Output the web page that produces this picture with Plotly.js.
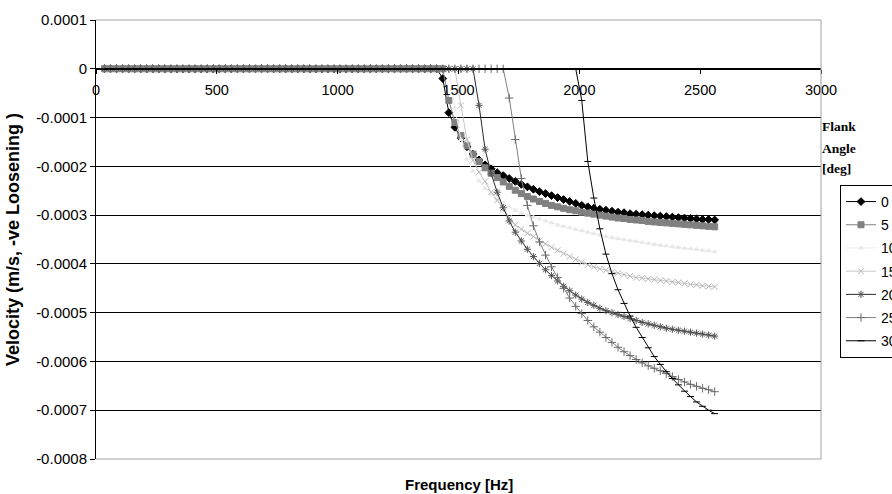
<!DOCTYPE html>
<html>
<head>
<meta charset="utf-8">
<script src="https://cdn.plot.ly/plotly-3.0.1.min.js"></script>
<style>html,body{margin:0;padding:0;background:#fff;}#chart{width:892px;height:494px;}</style>
</head>
<body>
<div id="chart"></div>
<script>
// Frequency [Hz]
const freq = [
35,60,85,110,135,160,185,210,235,260,
285,310,335,360,385,410,435,460,485,510,
535,560,585,610,635,660,685,710,735,760,
785,810,835,860,885,910,935,960,985,1010,
1035,1060,1085,1110,1135,1160,1185,1210,1235,1260,
1285,1310,1335,1360,1385,1410,1435,1460,1485,1510,
1535,1560,1585,1610,1635,1660,1685,1710,1735,1760,
1785,1810,1835,1860,1885,1910,1935,1960,1985,2010,
2035,2060,2085,2110,2135,2160,2185,2210,2235,2260,
2285,2310,2335,2360,2385,2410,2435,2460,2485,2510,
2535,2560
];

const seriesNames = ["0","5","10","15","20","25","30"];

// Velocity (m/s) for each flank angle
const v0 = [
0,0,0,0,0,0,0,0,0,0, 0,0,0,0,0,0,0,0,0,0, 0,0,0,0,0,0,0,0,0,0, 0,0,0,0,0,0,0,0,0,0, 0,0,0,0,0,0,0,0,0,0,
0,0,0,0,0,0,-0.2e-4,-0.9e-4,-1.2e-4,-1.42e-4,
-1.6e-4,-1.75e-4,-1.87e-4,-1.97e-4,-2.05e-4,-2.13e-4,-2.19e-4,-2.25e-4,-2.31e-4,-2.37e-4,
-2.42e-4,-2.47e-4,-2.52e-4,-2.56e-4,-2.6e-4,-2.64e-4,-2.68e-4,-2.72e-4,-2.76e-4,-2.8e-4,
-2.83e-4,-2.86e-4,-2.88e-4,-2.9e-4,-2.92e-4,-2.94e-4,-2.95e-4,-2.97e-4,-2.98e-4,-2.99e-4,
-3.0e-4,-3.01e-4,-3.02e-4,-3.03e-4,-3.04e-4,-3.05e-4,-3.06e-4,-3.07e-4,-3.08e-4,-3.09e-4,
-3.09e-4,-3.1e-4
];
const v5 = [
0,0,0,0,0,0,0,0,0,0, 0,0,0,0,0,0,0,0,0,0, 0,0,0,0,0,0,0,0,0,0, 0,0,0,0,0,0,0,0,0,0, 0,0,0,0,0,0,0,0,0,0,
0,0,0,0,0,0,0,-0.65e-4,-1.1e-4,-1.37e-4,
-1.58e-4,-1.75e-4,-1.9e-4,-2.03e-4,-2.14e-4,-2.23e-4,-2.32e-4,-2.41e-4,-2.49e-4,-2.56e-4,
-2.62e-4,-2.67e-4,-2.72e-4,-2.76e-4,-2.8e-4,-2.83e-4,-2.86e-4,-2.89e-4,-2.91e-4,-2.94e-4,
-2.96e-4,-2.98e-4,-3.0e-4,-3.02e-4,-3.04e-4,-3.06e-4,-3.07e-4,-3.09e-4,-3.1e-4,-3.11e-4,
-3.13e-4,-3.14e-4,-3.15e-4,-3.16e-4,-3.17e-4,-3.18e-4,-3.19e-4,-3.2e-4,-3.21e-4,-3.22e-4,
-3.23e-4,-3.24e-4
];
const v10 = [
0,0,0,0,0,0,0,0,0,0, 0,0,0,0,0,0,0,0,0,0, 0,0,0,0,0,0,0,0,0,0, 0,0,0,0,0,0,0,0,0,0, 0,0,0,0,0,0,0,0,0,0,
0,0,0,0,0,0,0,0,-0.8e-4,-1.45e-4,
-1.85e-4,-2.1e-4,-2.3e-4,-2.45e-4,-2.57e-4,-2.67e-4,-2.76e-4,-2.83e-4,-2.9e-4,-2.96e-4,
-3.0e-4,-3.04e-4,-3.08e-4,-3.12e-4,-3.16e-4,-3.2e-4,-3.23e-4,-3.26e-4,-3.29e-4,-3.32e-4,
-3.35e-4,-3.38e-4,-3.41e-4,-3.44e-4,-3.46e-4,-3.48e-4,-3.5e-4,-3.52e-4,-3.54e-4,-3.56e-4,
-3.58e-4,-3.6e-4,-3.62e-4,-3.63e-4,-3.65e-4,-3.66e-4,-3.68e-4,-3.69e-4,-3.7e-4,-3.72e-4,
-3.73e-4,-3.75e-4
];
const v15 = [
0,0,0,0,0,0,0,0,0,0, 0,0,0,0,0,0,0,0,0,0, 0,0,0,0,0,0,0,0,0,0, 0,0,0,0,0,0,0,0,0,0, 0,0,0,0,0,0,0,0,0,0,
0,0,0,0,0,0,0,0,0,-0.75e-4,
-1.45e-4,-1.88e-4,-2.12e-4,-2.31e-4,-2.53e-4,-2.7e-4,-2.88e-4,-3.05e-4,-3.2e-4,-3.29e-4,
-3.37e-4,-3.44e-4,-3.52e-4,-3.59e-4,-3.66e-4,-3.72e-4,-3.79e-4,-3.85e-4,-3.91e-4,-3.97e-4,
-4.02e-4,-4.06e-4,-4.1e-4,-4.13e-4,-4.16e-4,-4.19e-4,-4.22e-4,-4.25e-4,-4.28e-4,-4.29e-4,
-4.31e-4,-4.32e-4,-4.34e-4,-4.35e-4,-4.37e-4,-4.38e-4,-4.4e-4,-4.42e-4,-4.43e-4,-4.45e-4,
-4.46e-4,-4.47e-4
];
const v20 = [
0,0,0,0,0,0,0,0,0,0, 0,0,0,0,0,0,0,0,0,0, 0,0,0,0,0,0,0,0,0,0, 0,0,0,0,0,0,0,0,0,0, 0,0,0,0,0,0,0,0,0,0,
0,0,0,0,0,0,0,0,0,0,
0,0,-0.75e-4,-1.65e-4,-2.15e-4,-2.53e-4,-2.85e-4,-3.12e-4,-3.35e-4,-3.53e-4,
-3.7e-4,-3.85e-4,-3.99e-4,-4.12e-4,-4.24e-4,-4.35e-4,-4.46e-4,-4.55e-4,-4.64e-4,-4.72e-4,
-4.79e-4,-4.85e-4,-4.91e-4,-4.96e-4,-5.0e-4,-5.04e-4,-5.08e-4,-5.12e-4,-5.16e-4,-5.2e-4,
-5.23e-4,-5.26e-4,-5.29e-4,-5.32e-4,-5.34e-4,-5.36e-4,-5.38e-4,-5.4e-4,-5.42e-4,-5.44e-4,
-5.46e-4,-5.48e-4
];
const v25 = [
0,0,0,0,0,0,0,0,0,0, 0,0,0,0,0,0,0,0,0,0, 0,0,0,0,0,0,0,0,0,0, 0,0,0,0,0,0,0,0,0,0, 0,0,0,0,0,0,0,0,0,0,
0,0,0,0,0,0,0,0,0,0,
0,0,0,0,0,0,0,-0.6e-4,-1.45e-4,-2.25e-4,
-2.8e-4,-3.22e-4,-3.55e-4,-3.82e-4,-4.06e-4,-4.28e-4,-4.5e-4,-4.7e-4,-4.87e-4,-5.02e-4,
-5.16e-4,-5.29e-4,-5.4e-4,-5.51e-4,-5.61e-4,-5.71e-4,-5.8e-4,-5.88e-4,-5.96e-4,-6.03e-4,
-6.09e-4,-6.14e-4,-6.19e-4,-6.25e-4,-6.31e-4,-6.37e-4,-6.42e-4,-6.47e-4,-6.51e-4,-6.55e-4,
-6.58e-4,-6.62e-4
];
const v30 = [
0,0,0,0,0,0,0,0,0,0, 0,0,0,0,0,0,0,0,0,0, 0,0,0,0,0,0,0,0,0,0, 0,0,0,0,0,0,0,0,0,0, 0,0,0,0,0,0,0,0,0,0,
0,0,0,0,0,0,0,0,0,0,
0,0,0,0,0,0,0,0,0,0,
0,0,0,0,0,0,0,0,0,-0.65e-4,
-1.9e-4,-2.65e-4,-3.28e-4,-3.8e-4,-4.2e-4,-4.53e-4,-4.81e-4,-5.07e-4,-5.3e-4,-5.51e-4,
-5.72e-4,-5.9e-4,-6.06e-4,-6.21e-4,-6.35e-4,-6.48e-4,-6.61e-4,-6.72e-4,-6.83e-4,-6.92e-4,
-7.0e-4,-7.07e-4
];

const yTickVals = [0.0001, 0, -0.0001, -0.0002, -0.0003, -0.0004, -0.0005, -0.0006, -0.0007, -0.0008];
const yTickText = ["0.0001", "0", "-0.0001", "-0.0002", "-0.0003", "-0.0004", "-0.0005", "-0.0006", "-0.0007", "-0.0008"];
const xTickVals = [0, 500, 1000, 1500, 2000, 2500, 3000];

const values = [v0, v5, v10, v15, v20, v25, v30];
const styles = [
  {line: '#000000', mk: 'diamond', mc: '#000000', ms: 6},
  {line: '#808080', mk: 'square', mc: '#808080', ms: 6},
  {line: '#eeeeee', mk: 'triangle-up', mc: '#e8e8e8', ms: 4},
  {line: '#c8c8c8', mk: 'x-thin-open', mc: '#b8b8b8', ms: 6},
  {line: '#2a2a2a', mk: 'asterisk-open', mc: '#555555', ms: 6},
  {line: '#808080', mk: 'cross-thin-open', mc: '#6a6a6a', ms: 6},
  {line: '#000000', mk: 'line-ew-open', mc: '#000000', ms: 5}
];

const traces = seriesNames.map((name, i) => ({
  type: 'scatter',
  mode: 'lines+markers',
  name: name,
  legendgroup: 'g' + i,
  x: freq,
  y: values[i],
  line: {color: styles[i].line, width: 1},
  marker: {symbol: styles[i].mk, color: styles[i].mc, size: styles[i].ms,
           line: {color: styles[i].mc, width: 1}}
}));

const font = "Liberation Sans, Arial, sans-serif";
const serif = "Liberation Serif, Times New Roman, serif";
const layout = {
  width: 892, height: 494,
  margin: {l: 96, r: 71, t: 20, b: 35, autoexpand: false},
  paper_bgcolor: '#ffffff', plot_bgcolor: '#ffffff',
  font: {family: font, size: 14, color: '#000'},
  showlegend: true,
  legend: {
    x: 1.0262, xanchor: 'left', y: 0.6242, yanchor: 'top',
    bordercolor: '#000', borderwidth: 1, bgcolor: '#fff',
    font: {family: font, size: 14, color: '#000'},
    tracegroupgap: 2, traceorder: 'grouped'
  },
  xaxis: {
    range: [0, 3000], tickvals: xTickVals, ticktext: xTickVals.map(String),
    anchor: 'free', position: 0.8889,
    showline: true, linecolor: '#000', linewidth: 1,
    ticks: 'outside', ticklen: 4, tickcolor: '#000',
    ticklabelstandoff: 4,
    showgrid: false, zeroline: false,
    tickfont: {family: font, size: 14.5, color: '#000'}
  },
  yaxis: {
    range: [-0.0008, 0.0001], tickvals: yTickVals, ticktext: yTickText,
    showline: true, linecolor: '#000', linewidth: 1,
    ticks: 'outside', ticklen: 5, tickcolor: '#000',
    showgrid: true, gridcolor: '#000', gridwidth: 1, zeroline: false,
    tickfont: {family: font, size: 15, color: '#000'},
    title: {text: '<b>Velocity (m/s, -ve Loosening )</b>', font: {family: font, size: 18, color: '#000'}, standoff: 11}
  },
  shapes: [
    {type: 'line', xref: 'paper', yref: 'paper', x0: 0, x1: 1, y0: 1, y1: 1, line: {color: '#a0a0a0', width: 1}, layer: 'above'},
    {type: 'line', xref: 'paper', yref: 'paper', x0: 0, x1: 1, y0: 0, y1: 0, line: {color: '#a0a0a0', width: 1}, layer: 'above'},
    {type: 'line', xref: 'paper', yref: 'paper', x0: 1, x1: 1, y0: 0, y1: 1, line: {color: '#a0a0a0', width: 1}, layer: 'above'}
  ],
  annotations: [
    {text: '<b>Frequency [Hz]</b>', xref: 'paper', yref: 'paper', x: 0.5, y: -0.057, xanchor: 'center', yanchor: 'middle', showarrow: false, font: {family: font, size: 15, color: '#000'}},
    {text: '<b>Flank</b>', xref: 'paper', yref: 'paper', x: 0.998, y: 0.7563, xanchor: 'left', yanchor: 'middle', showarrow: false, font: {family: serif, size: 13.5, color: '#000'}},
    {text: '<b>Angle</b>', xref: 'paper', yref: 'paper', x: 0.998, y: 0.7084, xanchor: 'left', yanchor: 'middle', showarrow: false, font: {family: serif, size: 13.5, color: '#000'}},
    {text: '<b>[deg]</b>', xref: 'paper', yref: 'paper', x: 0.998, y: 0.6606, xanchor: 'left', yanchor: 'middle', showarrow: false, font: {family: serif, size: 13.5, color: '#000'}}
  ]
};

Plotly.newPlot('chart', traces, layout, {displayModeBar: false, staticPlot: true});
</script>
</body>
</html>
